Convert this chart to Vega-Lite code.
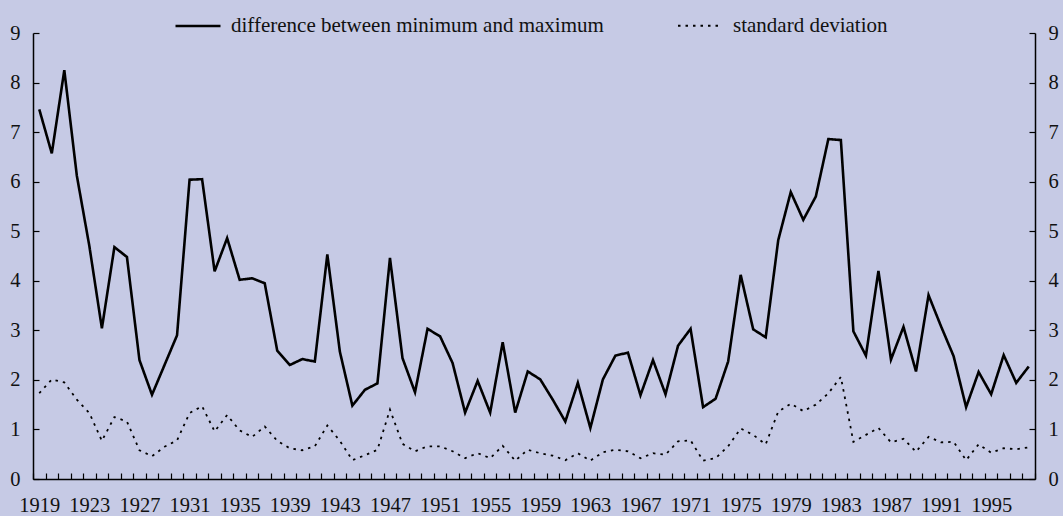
{
  "$schema": "https://vega.github.io/schema/vega-lite/v6.json",
  "width": 1002,
  "height": 446,
  "autosize": {"type": "none"},
  "padding": {"left": 33, "top": 33, "right": 28, "bottom": 37},
  "background": "#c6cae5",
  "config": {
    "font": "Liberation Serif, Times New Roman, serif",
    "view": {"stroke": null},
    "axis": {
      "labelFont": "Liberation Serif, Times New Roman, serif",
      "labelFontSize": 20.5,
      "labelColor": "#111111",
      "domainColor": "#000000",
      "tickColor": "#000000",
      "domainWidth": 1.5,
      "tickWidth": 1.2,
      "grid": false,
      "title": null
    }
  },
  "datasets": {
    "rows": [
      {"year": 1919, "series": "difference between minimum and maximum", "value": 7.46},
      {"year": 1920, "series": "difference between minimum and maximum", "value": 6.57},
      {"year": 1921, "series": "difference between minimum and maximum", "value": 8.25},
      {"year": 1922, "series": "difference between minimum and maximum", "value": 6.12},
      {"year": 1923, "series": "difference between minimum and maximum", "value": 4.7},
      {"year": 1924, "series": "difference between minimum and maximum", "value": 3.04},
      {"year": 1925, "series": "difference between minimum and maximum", "value": 4.68},
      {"year": 1926, "series": "difference between minimum and maximum", "value": 4.48},
      {"year": 1927, "series": "difference between minimum and maximum", "value": 2.4},
      {"year": 1928, "series": "difference between minimum and maximum", "value": 1.7},
      {"year": 1929, "series": "difference between minimum and maximum", "value": 2.3},
      {"year": 1930, "series": "difference between minimum and maximum", "value": 2.9},
      {"year": 1931, "series": "difference between minimum and maximum", "value": 6.04},
      {"year": 1932, "series": "difference between minimum and maximum", "value": 6.05},
      {"year": 1933, "series": "difference between minimum and maximum", "value": 4.19},
      {"year": 1934, "series": "difference between minimum and maximum", "value": 4.86},
      {"year": 1935, "series": "difference between minimum and maximum", "value": 4.02},
      {"year": 1936, "series": "difference between minimum and maximum", "value": 4.05},
      {"year": 1937, "series": "difference between minimum and maximum", "value": 3.95},
      {"year": 1938, "series": "difference between minimum and maximum", "value": 2.59},
      {"year": 1939, "series": "difference between minimum and maximum", "value": 2.3},
      {"year": 1940, "series": "difference between minimum and maximum", "value": 2.42},
      {"year": 1941, "series": "difference between minimum and maximum", "value": 2.37},
      {"year": 1942, "series": "difference between minimum and maximum", "value": 4.53},
      {"year": 1943, "series": "difference between minimum and maximum", "value": 2.57},
      {"year": 1944, "series": "difference between minimum and maximum", "value": 1.48},
      {"year": 1945, "series": "difference between minimum and maximum", "value": 1.8},
      {"year": 1946, "series": "difference between minimum and maximum", "value": 1.93},
      {"year": 1947, "series": "difference between minimum and maximum", "value": 4.46},
      {"year": 1948, "series": "difference between minimum and maximum", "value": 2.44},
      {"year": 1949, "series": "difference between minimum and maximum", "value": 1.75},
      {"year": 1950, "series": "difference between minimum and maximum", "value": 3.03},
      {"year": 1951, "series": "difference between minimum and maximum", "value": 2.88},
      {"year": 1952, "series": "difference between minimum and maximum", "value": 2.34},
      {"year": 1953, "series": "difference between minimum and maximum", "value": 1.34},
      {"year": 1954, "series": "difference between minimum and maximum", "value": 1.98},
      {"year": 1955, "series": "difference between minimum and maximum", "value": 1.34},
      {"year": 1956, "series": "difference between minimum and maximum", "value": 2.76},
      {"year": 1957, "series": "difference between minimum and maximum", "value": 1.34},
      {"year": 1958, "series": "difference between minimum and maximum", "value": 2.17},
      {"year": 1959, "series": "difference between minimum and maximum", "value": 2.01},
      {"year": 1960, "series": "difference between minimum and maximum", "value": 1.6},
      {"year": 1961, "series": "difference between minimum and maximum", "value": 1.16},
      {"year": 1962, "series": "difference between minimum and maximum", "value": 1.94},
      {"year": 1963, "series": "difference between minimum and maximum", "value": 1.03},
      {"year": 1964, "series": "difference between minimum and maximum", "value": 2.01},
      {"year": 1965, "series": "difference between minimum and maximum", "value": 2.49},
      {"year": 1966, "series": "difference between minimum and maximum", "value": 2.55},
      {"year": 1967, "series": "difference between minimum and maximum", "value": 1.69},
      {"year": 1968, "series": "difference between minimum and maximum", "value": 2.4},
      {"year": 1969, "series": "difference between minimum and maximum", "value": 1.71},
      {"year": 1970, "series": "difference between minimum and maximum", "value": 2.69},
      {"year": 1971, "series": "difference between minimum and maximum", "value": 3.03},
      {"year": 1972, "series": "difference between minimum and maximum", "value": 1.45},
      {"year": 1973, "series": "difference between minimum and maximum", "value": 1.62},
      {"year": 1974, "series": "difference between minimum and maximum", "value": 2.37},
      {"year": 1975, "series": "difference between minimum and maximum", "value": 4.12},
      {"year": 1976, "series": "difference between minimum and maximum", "value": 3.02},
      {"year": 1977, "series": "difference between minimum and maximum", "value": 2.86},
      {"year": 1978, "series": "difference between minimum and maximum", "value": 4.82},
      {"year": 1979, "series": "difference between minimum and maximum", "value": 5.79},
      {"year": 1980, "series": "difference between minimum and maximum", "value": 5.23},
      {"year": 1981, "series": "difference between minimum and maximum", "value": 5.7},
      {"year": 1982, "series": "difference between minimum and maximum", "value": 6.86},
      {"year": 1983, "series": "difference between minimum and maximum", "value": 6.84},
      {"year": 1984, "series": "difference between minimum and maximum", "value": 2.98},
      {"year": 1985, "series": "difference between minimum and maximum", "value": 2.49},
      {"year": 1986, "series": "difference between minimum and maximum", "value": 4.2},
      {"year": 1987, "series": "difference between minimum and maximum", "value": 2.41},
      {"year": 1988, "series": "difference between minimum and maximum", "value": 3.07},
      {"year": 1989, "series": "difference between minimum and maximum", "value": 2.17},
      {"year": 1990, "series": "difference between minimum and maximum", "value": 3.71},
      {"year": 1991, "series": "difference between minimum and maximum", "value": 3.08},
      {"year": 1992, "series": "difference between minimum and maximum", "value": 2.48},
      {"year": 1993, "series": "difference between minimum and maximum", "value": 1.45},
      {"year": 1994, "series": "difference between minimum and maximum", "value": 2.16},
      {"year": 1995, "series": "difference between minimum and maximum", "value": 1.71},
      {"year": 1996, "series": "difference between minimum and maximum", "value": 2.5},
      {"year": 1997, "series": "difference between minimum and maximum", "value": 1.94},
      {"year": 1998, "series": "difference between minimum and maximum", "value": 2.27},
      {"year": 1919, "series": "standard deviation", "value": 1.73},
      {"year": 1920, "series": "standard deviation", "value": 2.01},
      {"year": 1921, "series": "standard deviation", "value": 1.95},
      {"year": 1922, "series": "standard deviation", "value": 1.6},
      {"year": 1923, "series": "standard deviation", "value": 1.33},
      {"year": 1924, "series": "standard deviation", "value": 0.77},
      {"year": 1925, "series": "standard deviation", "value": 1.25},
      {"year": 1926, "series": "standard deviation", "value": 1.16},
      {"year": 1927, "series": "standard deviation", "value": 0.58},
      {"year": 1928, "series": "standard deviation", "value": 0.46},
      {"year": 1929, "series": "standard deviation", "value": 0.65},
      {"year": 1930, "series": "standard deviation", "value": 0.78},
      {"year": 1931, "series": "standard deviation", "value": 1.33},
      {"year": 1932, "series": "standard deviation", "value": 1.47},
      {"year": 1933, "series": "standard deviation", "value": 0.96},
      {"year": 1934, "series": "standard deviation", "value": 1.29},
      {"year": 1935, "series": "standard deviation", "value": 0.98},
      {"year": 1936, "series": "standard deviation", "value": 0.85},
      {"year": 1937, "series": "standard deviation", "value": 1.06},
      {"year": 1938, "series": "standard deviation", "value": 0.77},
      {"year": 1939, "series": "standard deviation", "value": 0.62},
      {"year": 1940, "series": "standard deviation", "value": 0.58},
      {"year": 1941, "series": "standard deviation", "value": 0.66},
      {"year": 1942, "series": "standard deviation", "value": 1.08},
      {"year": 1943, "series": "standard deviation", "value": 0.77},
      {"year": 1944, "series": "standard deviation", "value": 0.38},
      {"year": 1945, "series": "standard deviation", "value": 0.48},
      {"year": 1946, "series": "standard deviation", "value": 0.59},
      {"year": 1947, "series": "standard deviation", "value": 1.4},
      {"year": 1948, "series": "standard deviation", "value": 0.71},
      {"year": 1949, "series": "standard deviation", "value": 0.56},
      {"year": 1950, "series": "standard deviation", "value": 0.66},
      {"year": 1951, "series": "standard deviation", "value": 0.66},
      {"year": 1952, "series": "standard deviation", "value": 0.56},
      {"year": 1953, "series": "standard deviation", "value": 0.42},
      {"year": 1954, "series": "standard deviation", "value": 0.52},
      {"year": 1955, "series": "standard deviation", "value": 0.42},
      {"year": 1956, "series": "standard deviation", "value": 0.67},
      {"year": 1957, "series": "standard deviation", "value": 0.37},
      {"year": 1958, "series": "standard deviation", "value": 0.59},
      {"year": 1959, "series": "standard deviation", "value": 0.52},
      {"year": 1960, "series": "standard deviation", "value": 0.47},
      {"year": 1961, "series": "standard deviation", "value": 0.38},
      {"year": 1962, "series": "standard deviation", "value": 0.52},
      {"year": 1963, "series": "standard deviation", "value": 0.37},
      {"year": 1964, "series": "standard deviation", "value": 0.54},
      {"year": 1965, "series": "standard deviation", "value": 0.59},
      {"year": 1966, "series": "standard deviation", "value": 0.56},
      {"year": 1967, "series": "standard deviation", "value": 0.42},
      {"year": 1968, "series": "standard deviation", "value": 0.52},
      {"year": 1969, "series": "standard deviation", "value": 0.49},
      {"year": 1970, "series": "standard deviation", "value": 0.76},
      {"year": 1971, "series": "standard deviation", "value": 0.78},
      {"year": 1972, "series": "standard deviation", "value": 0.37},
      {"year": 1973, "series": "standard deviation", "value": 0.42},
      {"year": 1974, "series": "standard deviation", "value": 0.66},
      {"year": 1975, "series": "standard deviation", "value": 1.02},
      {"year": 1976, "series": "standard deviation", "value": 0.89},
      {"year": 1977, "series": "standard deviation", "value": 0.7},
      {"year": 1978, "series": "standard deviation", "value": 1.36},
      {"year": 1979, "series": "standard deviation", "value": 1.52},
      {"year": 1980, "series": "standard deviation", "value": 1.37},
      {"year": 1981, "series": "standard deviation", "value": 1.5},
      {"year": 1982, "series": "standard deviation", "value": 1.73},
      {"year": 1983, "series": "standard deviation", "value": 2.06},
      {"year": 1984, "series": "standard deviation", "value": 0.75},
      {"year": 1985, "series": "standard deviation", "value": 0.89},
      {"year": 1986, "series": "standard deviation", "value": 1.03},
      {"year": 1987, "series": "standard deviation", "value": 0.74},
      {"year": 1988, "series": "standard deviation", "value": 0.81},
      {"year": 1989, "series": "standard deviation", "value": 0.55},
      {"year": 1990, "series": "standard deviation", "value": 0.85},
      {"year": 1991, "series": "standard deviation", "value": 0.74},
      {"year": 1992, "series": "standard deviation", "value": 0.75},
      {"year": 1993, "series": "standard deviation", "value": 0.38},
      {"year": 1994, "series": "standard deviation", "value": 0.7},
      {"year": 1995, "series": "standard deviation", "value": 0.53},
      {"year": 1996, "series": "standard deviation", "value": 0.62},
      {"year": 1997, "series": "standard deviation", "value": 0.6},
      {"year": 1998, "series": "standard deviation", "value": 0.64}
    ]
  },
  "data": {"name": "rows"},
  "layer": [
    {
      "mark": {"type": "line", "color": "#000000", "strokeJoin": "miter"},
      "encoding": {
        "x": {
          "field": "year",
          "type": "ordinal",
          "scale": {"paddingInner": 0, "paddingOuter": 0},
          "axis": {
            "tickBand": "extent",
            "tickSize": -6,
            "labelAngle": 0,
            "labelBaseline": "alphabetic",
            "labelPadding": 38.5,
            "labelOverlap": false,
            "labelExpr": "(datum.value - 1919) % 4 == 0 ? datum.label : ''",
            "title": null
          }
        },
        "y": {
          "field": "value",
          "type": "quantitative",
          "scale": {"domain": [0, 9], "nice": false},
          "axis": {
            "orient": "left",
            "values": [0, 1, 2, 3, 4, 5, 6, 7, 8, 9],
            "tickSize": -6,
            "labelPadding": 19,
            "format": "d",
            "title": null
          }
        },
        "strokeDash": {
          "field": "series",
          "type": "nominal",
          "scale": {
            "domain": ["difference between minimum and maximum", "standard deviation"],
            "range": [[1, 0], [2.5, 5]]
          },
          "legend": {
            "orient": "none",
            "legendX": 141,
            "legendY": -31,
            "direction": "horizontal",
            "title": null,
            "symbolType": "stroke",
            "symbolSize": 2025,
            "symbolStrokeWidth": 2.5,
            "symbolStrokeColor": "#000000",
            "labelFontSize": 21,
            "labelFont": "Liberation Serif, Times New Roman, serif",
            "labelColor": "#111111",
            "labelOffset": 9,
            "columnPadding": 70,
            "padding": 0,
            "labelLimit": 0
          }
        },
        "strokeWidth": {
          "field": "series",
          "type": "ordinal",
          "scale": {
            "domain": ["difference between minimum and maximum", "standard deviation"],
            "range": [2.6, 1.8]
          },
          "legend": null
        }
      }
    },
    {
      "mark": {"type": "point", "opacity": 0},
      "encoding": {
        "x": {"field": "year", "type": "ordinal"},
        "y": {
          "field": "value",
          "type": "quantitative",
          "axis": {
            "orient": "right",
            "values": [0, 1, 2, 3, 4, 5, 6, 7, 8, 9],
            "tickSize": -6,
            "labelPadding": 19,
            "format": "d",
            "title": null
          }
        }
      }
    }
  ],
  "resolve": {"axis": {"y": "independent"}}
}
